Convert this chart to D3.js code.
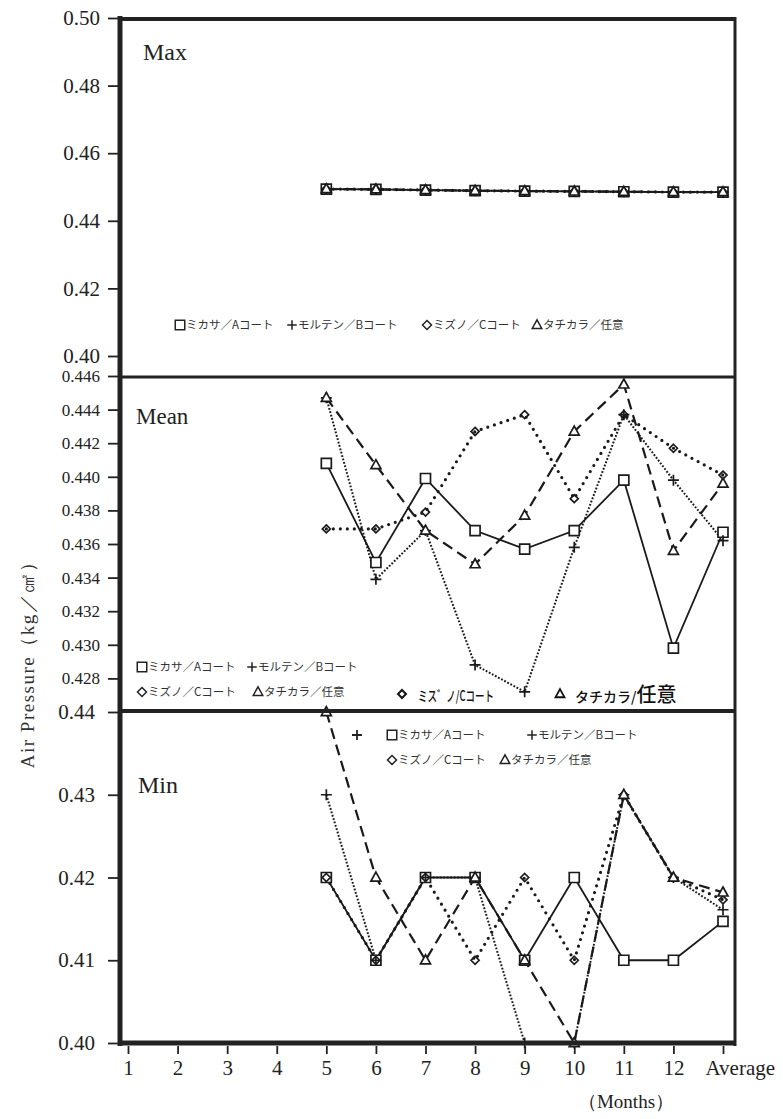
<!DOCTYPE html>
<html>
<head>
<meta charset="utf-8">
<script src="https://cdn.jsdelivr.net/npm/d3@7"></script>
<style>
  html, body { margin: 0; padding: 0; background: #fff; }
  svg { display: block; }
</style>
</head>
<body>
<svg id="chart" width="783" height="1119"></svg>
<script>
// Months 5..12 plus the yearly average (plotted at position 13)
const months = [5, 6, 7, 8, 9, 10, 11, 12, 13];
const xTickValues = [1, 2, 3, 4, 5, 6, 7, 8, 9, 10, 11, 12, 13];
const xTickLabels = ["1", "2", "3", "4", "5", "6", "7", "8", "9", "10", "11", "12", "Average"];

const seriesLabels = ["ミカサ／Aコート", "モルテン／Bコート", "ミズノ／Cコート", "タチカラ／任意"];

// Max air pressure (kg/cm2)
const maxMikasa    = [0.4494, 0.4493, 0.4491, 0.4489, 0.4488, 0.4487, 0.4486, 0.4485, 0.4485];
const maxMolten    = [0.4494, 0.4493, 0.4491, 0.4489, 0.4488, 0.4487, 0.4486, 0.4485, 0.4485];
const maxMizuno    = [0.4494, 0.4493, 0.4491, 0.4489, 0.4488, 0.4487, 0.4486, 0.4485, 0.4485];
const maxTachikara = [0.4494, 0.4493, 0.4491, 0.4489, 0.4488, 0.4487, 0.4486, 0.4485, 0.4485];

// Mean air pressure
const meanMikasa    = [0.4408, 0.4349, 0.4399, 0.4368, 0.4357, 0.4368, 0.4398, 0.4298, 0.4367];
const meanMolten    = [0.4447, 0.4339, 0.4368, 0.4288, 0.4272, 0.4358, 0.4437, 0.4398, 0.4362];
const meanMizuno    = [0.4369, 0.4369, 0.4379, 0.4427, 0.4437, 0.4387, 0.4437, 0.4417, 0.4401];
const meanTachikara = [0.4447, 0.4407, 0.4368, 0.4348, 0.4377, 0.4427, 0.4455, 0.4356, 0.4396];

// Min air pressure
const minMikasa    = [0.42, 0.41, 0.42, 0.42, 0.41, 0.42, 0.41, 0.41, 0.4147];
const minMolten    = [0.43, 0.41, 0.42, 0.42, 0.40, 0.40, 0.43, 0.42, 0.4161];
const minMizuno    = [0.42, 0.41, 0.42, 0.41, 0.42, 0.41, 0.43, 0.42, 0.4173];
const minTachikara = [0.44, 0.42, 0.41, 0.42, 0.41, 0.40, 0.43, 0.42, 0.4182];

// Y tick values of each panel
const maxTicks  = [0.40, 0.42, 0.44, 0.46, 0.48, 0.50];
const meanTicks = [0.428, 0.430, 0.432, 0.434, 0.436, 0.438, 0.440, 0.442, 0.444, 0.446];
const minTicks  = [0.40, 0.41, 0.42, 0.43, 0.44];

const SERIF = "'Liberation Serif', 'DejaVu Serif', serif";
const JP = "'Noto Sans CJK JP', 'Noto Sans', sans-serif";

const svg = d3.select("#chart");
svg.append("rect").attr("width", 783).attr("height", 1119).attr("fill", "#fff");

const frame = { left: 120, right: 735, top: 19, bottom: 1043 };
const x = d3.scaleLinear().domain([1, 13]).range([128, 723]);

// marker shapes
const shapes = {
  square:   s => `M${-s/2},${-s/2}h${s}v${s}h${-s}Z`,
  plus:     s => `M${-s/2},0H${s/2}M0,${-s/2}V${s/2}`,
  diamond:  s => `M0,${-s/2}L${s/2},0L0,${s/2}L${-s/2},0Z`,
  triangle: s => { const h = s * 0.9; return `M0,${-h*0.6}L${s/2},${h*0.4}L${-s/2},${h*0.4}Z`; }
};

const styles = [
  { shape: "square",   size: 10, fill: "#fff", lw: 1.8, dash: null,      cap: "butt"  },
  { shape: "plus",     size: 11, fill: "none", lw: 2.0, dash: "1.8,1.7", cap: "butt"  },
  { shape: "diamond",  size: 8,  fill: "none", lw: 3.2, dash: "0,7",     cap: "round" },
  { shape: "triangle", size: 10, fill: "#fff", lw: 2.2, dash: "11,6",    cap: "butt"  }
];

const panels = [
  { name: "Max",  domain: [0.40, 0.50],  range: [356, 18],   ticks: maxTicks,  fmt: ".2f", fs: 21, pad: 8,
    series: [maxMikasa, maxMolten, maxMizuno, maxTachikara], title: { x: 143, y: 60, fs: 24 } },
  { name: "Mean", domain: [0.426, 0.446], range: [712, 376], ticks: meanTicks, fmt: ".3f", fs: 17, pad: 8,
    series: [meanMikasa, meanMolten, meanMizuno, meanTachikara], title: { x: 136, y: 424, fs: 23 } },
  { name: "Min",  domain: [0.40, 0.44],  range: [1043, 712], ticks: minTicks,  fmt: ".2f", fs: 21, pad: 13,
    series: [minMikasa, minMolten, minMizuno, minTachikara], title: { x: 138, y: 793, fs: 24 } }
];

panels.forEach(p => {
  const y = d3.scaleLinear().domain(p.domain).range(p.range);
  const g = svg.append("g").attr("class", "panel-" + p.name);

  // y axis
  const ax = g.append("g").attr("transform", `translate(${frame.left - 2},0)`)
    .call(d3.axisLeft(y).tickValues(p.ticks).tickFormat(d3.format(p.fmt)).tickSize(10).tickPadding(p.pad))
    .attr("font-family", SERIF);
  ax.select(".domain").remove();
  ax.selectAll(".tick line").attr("stroke", "#222").attr("stroke-width", 1.8);
  ax.selectAll(".tick text").attr("font-family", SERIF).attr("font-size", p.fs).attr("fill", "#222");

  // series lines
  const line = d3.line().x((d, i) => x(months[i])).y(d => y(d));
  p.series.forEach((vals, si) => {
    const st = styles[si];
    g.append("path").datum(vals)
      .attr("d", line)
      .attr("fill", "none")
      .attr("stroke", "#1a1a1a")
      .attr("stroke-width", st.lw)
      .attr("stroke-dasharray", st.dash)
      .attr("stroke-linecap", st.cap);
  });
  // markers
  p.series.forEach((vals, si) => {
    const st = styles[si];
    g.append("g").selectAll("path").data(vals).join("path")
      .attr("transform", (d, i) => `translate(${x(months[i])},${y(d)})`)
      .attr("d", shapes[st.shape](st.size))
      .attr("fill", st.fill)
      .attr("stroke", "#1a1a1a")
      .attr("stroke-width", 1.7);
  });

  // panel title
  g.append("text").attr("x", p.title.x).attr("y", p.title.y)
    .attr("font-family", SERIF).attr("font-size", p.title.fs).attr("fill", "#222")
    .text(p.name);
});

// legends
function legendItem(g, si, lx, ly, fs) {
  const st = styles[si];
  g.append("path").attr("transform", `translate(${lx + 5},${ly})`)
    .attr("d", shapes[st.shape](si === 2 ? 9 : 9.5))
    .attr("fill", "none").attr("stroke", "#222").attr("stroke-width", 1.5);
  g.append("text").attr("x", lx + 11).attr("y", ly).attr("dy", "0.36em")
    .attr("font-family", JP).attr("font-size", fs).attr("fill", "#333")
    .text(seriesLabels[si]);
}

const legMax = svg.append("g");
[[175, 325], [287, 325], [422, 325], [532, 325]].forEach((pos, i) => legendItem(legMax, i, pos[0], pos[1], 11.5));

const legMean = svg.append("g");
[[137, 667], [247, 667], [137, 692], [253, 692]].forEach((pos, i) => legendItem(legMean, i, pos[0], pos[1], 11.5));

const legMin = svg.append("g");
[[387, 735], [527, 735], [387, 760], [500, 760]].forEach((pos, i) => legendItem(legMin, i, pos[0], pos[1], 11.5));
legMin.append("path").attr("transform", "translate(357,735)").attr("d", shapes.plus(10))
  .attr("stroke", "#222").attr("stroke-width", 1.8);

// hand-lettered key inside the Mean panel
const hand = svg.append("g");
hand.append("path").attr("transform", "translate(402,694)").attr("d", shapes.diamond(8))
  .attr("fill", "none").attr("stroke", "#111").attr("stroke-width", 2);
hand.append("text").attr("x", 418).attr("y", 701)
  .attr("font-family", JP).attr("font-weight", 500).attr("font-size", 14).attr("fill", "#111")
  .attr("textLength", 76).attr("lengthAdjust", "spacingAndGlyphs")
  .text("ミス゛ノ/Cコート");
hand.append("path").attr("transform", "translate(560,694)").attr("d", shapes.triangle(9))
  .attr("fill", "none").attr("stroke", "#111").attr("stroke-width", 1.8);
const ht = hand.append("text").attr("x", 575).attr("y", 702)
  .attr("font-family", JP).attr("font-weight", 500).attr("fill", "#111");
ht.append("tspan").attr("font-size", 14).text("タチカラ/");
ht.append("tspan").attr("font-size", 20).text("任意");

// x axis
const xa = svg.append("g").attr("transform", `translate(0,${frame.bottom + 3})`)
  .call(d3.axisBottom(x).tickValues(xTickValues).tickFormat((d, i) => xTickLabels[i]).tickSize(8).tickPadding(6))
  .attr("font-family", SERIF);
xa.select(".domain").remove();
xa.selectAll(".tick line").attr("stroke", "#222").attr("stroke-width", 1.8);
xa.selectAll(".tick text").attr("font-family", SERIF).attr("font-size", 21).attr("fill", "#222");
xa.selectAll(".tick text").filter((d, i) => i === xTickLabels.length - 1)
  .attr("text-anchor", "start").attr("x", -18);

// frame: outer box and panel dividers
const fg = svg.append("g").attr("stroke", "#222").attr("fill", "none");
fg.append("line").attr("x1", frame.left).attr("x2", frame.left).attr("y1", 16).attr("y2", 1046).attr("stroke-width", 5);
fg.append("line").attr("x1", frame.right).attr("x2", frame.right).attr("y1", 17).attr("y2", 1046).attr("stroke-width", 3);
fg.append("line").attr("x1", frame.left).attr("x2", frame.right + 1).attr("y1", frame.top).attr("y2", frame.top).attr("stroke-width", 4);
fg.append("line").attr("x1", frame.left).attr("x2", frame.right + 1).attr("y1", 377).attr("y2", 377).attr("stroke-width", 3);
fg.append("line").attr("x1", frame.left).attr("x2", frame.right + 1).attr("y1", 711).attr("y2", 711).attr("stroke-width", 4);
fg.append("line").attr("x1", frame.left - 2).attr("x2", frame.right + 1).attr("y1", frame.bottom).attr("y2", frame.bottom).attr("stroke-width", 5);

// axis titles
svg.append("text")
  .attr("transform", "translate(34,660) rotate(-90)")
  .attr("text-anchor", "middle")
  .attr("font-family", SERIF).attr("font-size", 19).attr("fill", "#333")
  .attr("letter-spacing", 1.5)
  .text("Air Pressure（kg／㎠）");

svg.append("text")
  .attr("x", 626).attr("y", 1108).attr("text-anchor", "middle")
  .attr("font-family", SERIF).attr("font-size", 19).attr("fill", "#222")
  .text("（Months）");
</script>
</body>
</html>
